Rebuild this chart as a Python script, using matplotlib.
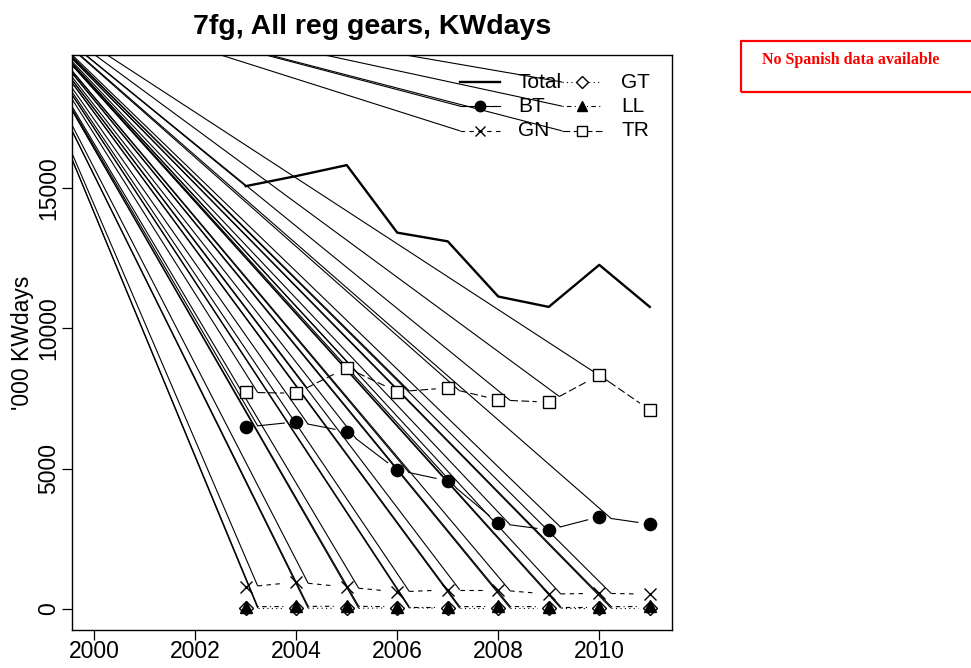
import numpy as np
import matplotlib
matplotlib.use("Agg")
import matplotlib.pyplot as plt
from matplotlib.patches import Rectangle

plt.rcParams['font.family'] = ['Liberation Sans', 'DejaVu Sans']

years = [2003, 2004, 2005, 2006, 2007, 2008, 2009, 2010, 2011]
total = [15080, 15440, 15830, 13420, 13110, 11140, 10770, 12270, 10770]
bt = [6480, 6670, 6320, 4950, 4560, 3050, 2810, 3280, 3020]
gn = [770, 950, 770, 600, 670, 670, 520, 550, 520]
gt = [20, 20, 10, 30, 20, 20, 20, 20, 20]
ll = [70, 80, 90, 70, 70, 80, 70, 70, 80]
tr = [7720, 7690, 8600, 7740, 7880, 7450, 7370, 8340, 7090]

title = "7fg, All reg gears, KWdays"
ylabel = "'000 KWdays"
note = "No Spanish data available"
x_ticks = [2000, 2002, 2004, 2006, 2008, 2010]
y_ticks = [0, 5000, 10000, 15000]

# (name, values, linestyle, marker, marker filled)
gears = [
    ("BT", bt, "-", "o", True),
    ("GN", gn, (0, (4, 4)), "x", False),
    ("GT", gt, (0, (1, 3)), "D", False),
    ("LL", ll, (0, (1, 3, 4, 3)), "^", True),
    ("TR", tr, (0, (7, 3)), "s", False),
]

# point that every stray moveto line comes from (the export glitch)
ORIGIN = (1998.13, 22260)
GAP = 12  # px gap around points, like R type="b"

fig = plt.figure(figsize=(9.71, 6.68), dpi=100)
ax = fig.add_axes([72/971, 38/668, 600/971, 575/668])
ax.set_xlim(1999.56, 2011.44)
ax.set_ylim(-760, 19760)

lw = 0.8
diag_kw = dict(color="black", lw=0.8, solid_capstyle="butt", zorder=2)
inv = ax.transData.inverted()


def to_data(p):
    return inv.transform(p)


# Total line
ax.plot(years, total, color="black", lw=1.7, zorder=3)
ax.plot([ORIGIN[0], years[0]], [ORIGIN[1], total[0]], **diag_kw)

# gear series with gaps
for name, vals, ls, mk, filled in gears:
    pts = ax.transData.transform(np.column_stack([years, vals]))
    for i in range(len(pts) - 1):
        d = pts[i + 1] - pts[i]
        L = np.hypot(d[0], d[1])
        if L <= 2 * GAP:
            continue
        a = to_data(pts[i] + d / L * GAP)
        b = to_data(pts[i + 1] - d / L * GAP)
        ax.plot([a[0], b[0]], [a[1], b[1]], color="black", lw=lw, ls=ls, zorder=3)
        ax.plot([ORIGIN[0], a[0]], [ORIGIN[1], a[1]], **diag_kw)
    ms = {"o": 8.8, "x": 8.8, "D": 7.2, "^": 8.8, "s": 8.8}[mk]
    ax.plot(years, vals, ls="none", marker=mk, ms=ms,
            mfc="black" if filled else "white", mec="black", mew=1.0, zorder=4)

# legend drawn by hand in axes fraction, like R's legend()
to_ax_data = ax.transAxes + inv
rows = [0.953, 0.911, 0.868]
cols = [(0.647, 0.713, 0.743), (0.817, 0.883, 0.915)]
entries = [("Total", None)] + gears
for k, entry in enumerate(entries):
    c = cols[k // 3]
    r = rows[k % 3]
    x0, yy = to_ax_data.transform((c[0], r))
    x1, _ = to_ax_data.transform((c[1], r))
    ax.text(c[2], r, entry[0], transform=ax.transAxes, fontsize=15,
            ha="left", va="center", zorder=5)
    if entry[1] is None:
        ax.plot([x0, x1], [yy, yy], color="black", lw=1.7, zorder=3)
        continue
    name, vals, ls, mk, filled = entry
    ax.plot([x0, x1], [yy, yy], color="black", lw=lw, ls=ls, zorder=3)
    ms = {"o": 7.5, "x": 7.5, "D": 6.5, "^": 7.5, "s": 7}[mk]
    ax.plot([(x0 + x1) / 2], [yy], ls="none", marker=mk, ms=ms,
            mfc="black" if filled else "white", mec="black", mew=1.0, zorder=4)
    ax.plot([ORIGIN[0], x0], [ORIGIN[1], yy], **diag_kw)

ax.set_xticks(x_ticks)
ax.set_yticks(y_ticks)
ax.set_xticklabels([str(t) for t in x_ticks], fontsize=16.5)
ax.set_yticklabels([str(t) for t in y_ticks], fontsize=16.5, rotation=90, va="center")
ax.tick_params(length=7, width=0.9, direction="out")
ax.tick_params(axis="x", pad=0.5)
ax.tick_params(axis="y", pad=1.5)
for s in ax.spines.values():
    s.set_linewidth(1.0)
ax.set_title(title, fontsize=20.5, fontweight="bold", pad=15)
ax.set_ylabel(ylabel, fontsize=16.5, labelpad=2)

# red note box in the top right
fig.patches.append(Rectangle((741/971, 1 - 92/668), 0.3, 51/668, transform=fig.transFigure,
                             fill=False, edgecolor="red", lw=1.6))
fig.text(851/971, 1 - 60/668, note, color="red", fontsize=11.5, fontweight="bold",
         family=["Liberation Serif", "DejaVu Serif"], ha="center", va="center")

fig.savefig("out.png", dpi=100)
